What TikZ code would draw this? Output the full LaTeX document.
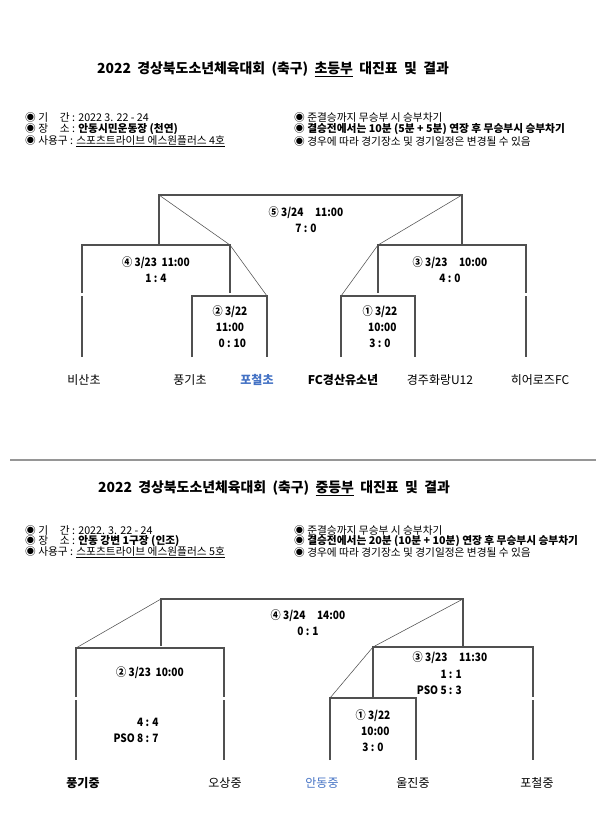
\documentclass[tikz,border=0pt]{standalone}
\usepackage{fontspec}
\setmainfont{Noto Sans CJK KR}
\newfontfamily\narrowfont[FakeStretch=0.88]{Noto Sans CJK KR}
\usepackage{xcolor}
\definecolor{linegray}{RGB}{80,80,80}
\definecolor{rulegray}{RGB}{150,150,150}
\definecolor{teamblue}{RGB}{68,114,196}
\usepackage{tikz}
\usetikzlibrary{positioning}
\tikzset{
  titletext/.style={font=\fontsize{13.9}{16}\selectfont\bfseries, inner sep=0pt},
  infotext/.style={font=\fontsize{10.7}{12}\selectfont, anchor=west, inner sep=0pt},
  gametext/.style={font=\narrowfont\fontsize{11.5}{16}\selectfont\bfseries, inner sep=0pt, align=center},
  teamtext/.style={font=\fontsize{12}{14}\selectfont, inner sep=0pt},
  bracket/.style={draw=linegray, line width=1.3pt},
  slant/.style={draw=linegray, line width=0.55pt},
}
\newcommand{\bul}{◉\ }

\begin{document}
\begin{tikzpicture}[x=1pt, y=-1pt]
  \useasboundingbox (0,0) rectangle (596,828);

  % ---------- elementary bracket ----------
  \node[titletext] (title1) at (273,69)
    {2022\ \ 경상북도소년체육대회\ \ (축구)\ \ \underline{초등부}\ \ 대진표\ \ 및\ \ 결과};
  \node[infotext] (info1a) at (25,117) {\bul 기\hspace{1.1em}간 : 2022 3. 22 - 24};
  \node[infotext] (info1b) at (25,129) {\bul 장\hspace{1.1em}소 : \textbf{안동시민운동장 (천연)}};
  \node[infotext] (info1c) at (25,141) {\bul 사용구 : \underline{스포츠트라이브 에스원플러스 4호}};
  \node[infotext] (info1d) at (294,117) {\bul 준결승까지 무승부 시 승부차기};
  \node[infotext] (info1e) at (294,129) {\bul \textbf{결승전에서는 10분 (5분 + 5분) 연장 후 무승부시 승부차기}};
  \node[infotext] (info1f) at (294,141) {\bul 경우에 따라 경기장소 및 경기일정은 변경될 수 있음};

  % lines
  \coordinate (f1l) at (159,195); \coordinate (f1r) at (462,195);
  \coordinate (s4l) at (82,245);  \coordinate (s4r) at (230,245);
  \coordinate (s3l) at (378,245); \coordinate (s3r) at (526,245);
  \coordinate (g2l) at (192,296); \coordinate (g2r) at (267,296);
  \coordinate (g1l) at (341,296); \coordinate (g1r) at (415,296);
  \draw[bracket] (f1l |- s4l) -- (f1l) -- (f1r) -- (f1r |- s3l);
  \draw[bracket] (82,293) -- (s4l) -- (s4r) -- (230,293);
  \draw[bracket] (378,293) -- (s3l) -- (s3r) -- (526,293);
  \draw[bracket] (192,357) -- (g2l) -- (g2r) -- (267,357);
  \draw[bracket] (341,357) -- (g1l) -- (g1r) -- (415,357);
  \draw[bracket] (82,296) -- (82,357);
  \draw[bracket] (526,296) -- (526,357);
  \draw[slant] (f1l) -- (s4r) -- (g2r);
  \draw[slant] (f1r) -- (s3l) -- (g1l);

  % games
  \node[gametext] (game5) at (306,220) {⑤\ 3/24\quad 11:00\\7 : 0};
  \node[gametext] (game4) at (156,270) {④\ 3/23\ \ 11:00\\1 : 4};
  \node[gametext] (game3) at (450,270) {③\ 3/23\quad 10:00\\4 : 0};
  \node[gametext] (game2) at (230,327) {②\ 3/22\\11:00\\\ \ 0 : 10};
  \node[gametext] (game1) at (380,327) {①\ 3/22\\\ \ 10:00\\3 : 0};

  % teams
  \node[teamtext] (bisan) at (84,380) {비산초};
  \node[teamtext] (pungie) at (190,380) {풍기초};
  \node[teamtext, text=teamblue, font=\fontsize{12}{14}\selectfont\bfseries] (pocheolE) at (257,380) {포철초};
  \node[teamtext, font=\fontsize{12}{14}\selectfont\bfseries] (gyeongsan) at (343,380) {FC경산유소년};
  \node[teamtext] (hwarang) at (440,380) {경주화랑U12};
  \node[teamtext] (heroes) at (540,380) {히어로즈FC};

  % separator
  \draw[rulegray, line width=1.3pt] (10,460) -- (596,460);

  % ---------- middle school bracket ----------
  \node[titletext] (title2) at (274,488)
    {2022\ \ 경상북도소년체육대회\ \ (축구)\ \ \underline{중등부}\ \ 대진표\ \ 및\ \ 결과};
  \node[infotext] (info2a) at (25,530) {\bul 기\hspace{1.1em}간 : 2022. 3. 22 - 24};
  \node[infotext] (info2b) at (25,541) {\bul 장\hspace{1.1em}소 : \textbf{안동 강변 1구장 (인조)}};
  \node[infotext] (info2c) at (25,552) {\bul 사용구 : \underline{스포츠트라이브 에스원플러스 5호}};
  \node[infotext] (info2d) at (294,530) {\bul 준결승까지 무승부 시 승부차기};
  \node[infotext] (info2e) at (294,541) {\bul \textbf{결승전에서는 20분 (10분 + 10분) 연장 후 무승부시 승부차기}};
  \node[infotext] (info2f) at (294,552) {\bul 경우에 따라 경기장소 및 경기일정은 변경될 수 있음};

  % lines
  \coordinate (f2l) at (161,599); \coordinate (f2r) at (463,599);
  \coordinate (m2l) at (76,648);  \coordinate (m2r) at (224,648);
  \coordinate (m3l) at (373,647); \coordinate (m3r) at (533,647);
  \coordinate (m1l) at (330,698); \coordinate (m1r) at (416,698);
  \draw[bracket] (161,646) -- (f2l) -- (f2r) -- (463,646);
  \draw[bracket] (76,697) -- (m2l) -- (m2r) -- (224,697);
  \draw[bracket] (373,697) -- (m3l) -- (m3r) -- (533,697);
  \draw[bracket] (330,760) -- (m1l) -- (m1r) -- (416,760);
  \draw[bracket] (76,700) -- (76,760);
  \draw[bracket] (224,700) -- (224,760);
  \draw[bracket] (533,700) -- (533,760);
  \draw[slant] (f2l) -- (m2l);
  \draw[slant] (f2r) -- (m3l) -- (m1l);

  % games
  \node[gametext] (mgame4) at (308,623) {④\ 3/24\quad 14:00\\0 : 1};
  \node[gametext] (mgame2) at (150,673) {②\ 3/23\ \ 10:00};
  \node[gametext, align=right] (mgame2s) at (136,730) {4 : 4\\PSO 8 : 7};
  \node[gametext] (mgame3) at (450,658) {③\ 3/23\quad 11:30};
  \node[gametext, align=right, anchor=east] (mgame3s) at (462,682) {1 : 1\\PSO 5 : 3};
  \node[gametext] (mgame1) at (373,731) {①\ 3/22\\\ \ 10:00\\3 : 0};

  % teams
  \node[teamtext, font=\fontsize{12}{14}\selectfont\bfseries] (pungiM) at (83,783) {풍기중};
  \node[teamtext] (osang) at (225,783) {오상중};
  \node[teamtext, text=teamblue] (andong) at (322,783) {안동중};
  \node[teamtext] (uljin) at (413,783) {울진중};
  \node[teamtext] (pocheolM) at (537,783) {포철중};
\end{tikzpicture}
\end{document}
